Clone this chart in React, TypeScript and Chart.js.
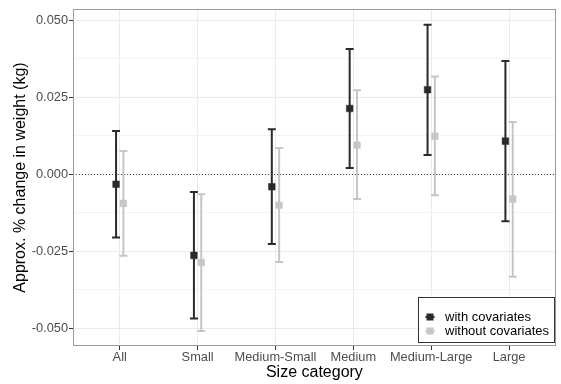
import React, { useEffect, useRef } from "react";
import { Chart, registerables } from "chart.js";

Chart.register(...registerables);

const categories = ["All", "Small", "Medium-Small", "Medium", "Medium-Large", "Large"];
const seriesLabels = ["with covariates", "without covariates"];
const withEst = [-0.0032, -0.0263, -0.004, 0.0214, 0.0275, 0.0108];
const withLo = [-0.0205, -0.0468, -0.0226, 0.0021, 0.0063, -0.0152];
const withHi = [0.0141, -0.0057, 0.0147, 0.0407, 0.0486, 0.0368];
const withoutEst = [-0.0094, -0.0286, -0.01, 0.0095, 0.0124, -0.008];
const withoutLo = [-0.0264, -0.0508, -0.0284, -0.008, -0.0068, -0.0332];
const withoutHi = [0.0076, -0.0064, 0.0086, 0.0273, 0.0318, 0.017];
const yMajorTicks = [-0.05, -0.025, 0, 0.025, 0.05];
const yMinorTicks = [-0.0375, -0.0125, 0.0125, 0.0375];

const DARK = "#2a2a2a";
const LIGHT = "#c6c6c6";
const DODGE = 0.047;
const FONT = "'Liberation Sans', Arial, sans-serif";

function build(est: number[], lo: number[], hi: number[], off: number) {
  return est.map((v, i) => ({ x: i + 1 + off, y: v, lo: lo[i], hi: hi[i] }));
}

const errorBarPlugin = {
  id: "errorBars",
  beforeDatasetsDraw(chart: any) {
    const { ctx, chartArea, scales } = chart;
    const ys = scales.y;
    const xs = scales.x;
    ctx.save();
    ctx.strokeStyle = "#4d4d4d";
    ctx.lineWidth = 1;
    ctx.setLineDash([1, 2]);
    const y0 = Math.round(ys.getPixelForValue(0)) + 0.5;
    ctx.beginPath();
    ctx.moveTo(chartArea.left, y0);
    ctx.lineTo(chartArea.right, y0);
    ctx.stroke();
    ctx.setLineDash([]);
    chart.data.datasets.forEach((ds: any) => {
      ctx.strokeStyle = ds.backgroundColor;
      ctx.lineWidth = 2;
      ds.data.forEach((d: any) => {
        const x = xs.getPixelForValue(d.x);
        const yl = ys.getPixelForValue(d.lo);
        const yh = ys.getPixelForValue(d.hi);
        ctx.beginPath();
        ctx.moveTo(x, yl);
        ctx.lineTo(x, yh);
        ctx.moveTo(x - 4, yl);
        ctx.lineTo(x + 4, yl);
        ctx.moveTo(x - 4, yh);
        ctx.lineTo(x + 4, yh);
        ctx.stroke();
      });
    });
    ctx.restore();
  },
  afterDraw(chart: any) {
    const { ctx, chartArea } = chart;
    ctx.save();
    ctx.strokeStyle = "#9a9a9a";
    ctx.lineWidth = 1;
    ctx.strokeRect(
      Math.round(chartArea.left) + 0.5,
      Math.round(chartArea.top) + 0.5,
      Math.round(chartArea.right - chartArea.left) - 1,
      Math.round(chartArea.bottom - chartArea.top) - 1
    );
    const bx = 418, by = 297, bw = 136, bh = 45;
    ctx.fillStyle = "#ffffff";
    ctx.fillRect(bx, by, bw, bh);
    ctx.strokeStyle = "#333333";
    ctx.strokeRect(bx + 0.5, by + 0.5, bw, bh);
    ctx.font = "13px " + FONT;
    ctx.textBaseline = "middle";
    ctx.textAlign = "left";
    chart.data.datasets.forEach((ds: any, i: number) => {
      const cy = 317 + i * 14;
      const cx = 430;
      ctx.strokeStyle = ds.backgroundColor;
      ctx.lineWidth = 2;
      ctx.beginPath();
      ctx.moveTo(cx - 4.5, cy);
      ctx.lineTo(cx + 4.5, cy);
      ctx.stroke();
      ctx.fillStyle = ds.backgroundColor;
      ctx.fillRect(cx - 3.5, cy - 3.5, 7, 7);
      ctx.fillStyle = "#000000";
      ctx.fillText(ds.label, 445, cy + 0.5);
    });
    ctx.restore();
  },
};

export default function App() {
  const ref = useRef<HTMLCanvasElement>(null);
  useEffect(() => {
    const canvas = ref.current;
    if (!canvas) return;
    const allY = [...yMinorTicks, ...yMajorTicks].sort((a, b) => a - b);
    const isMajor = (v: number) => yMajorTicks.some((m) => Math.abs(m - v) < 1e-9);
    const chart = new Chart(canvas, {
      type: "scatter",
      data: {
        datasets: [
          {
            label: seriesLabels[0],
            data: build(withEst, withLo, withHi, -DODGE) as any,
            backgroundColor: DARK,
            borderColor: DARK,
            pointStyle: "rect",
            pointRadius: 4.7,
            borderWidth: 0.5,
          },
          {
            label: seriesLabels[1],
            data: build(withoutEst, withoutLo, withoutHi, DODGE) as any,
            backgroundColor: LIGHT,
            borderColor: LIGHT,
            pointStyle: "rect",
            pointRadius: 4.7,
            borderWidth: 0.5,
          },
        ],
      },
      options: {
        animation: false,
        responsive: false,
        maintainAspectRatio: false,
        layout: { padding: { top: 9, right: 2, left: 0, bottom: 0 } },
        plugins: { legend: { display: false }, tooltip: { enabled: false } },
        scales: {
          x: {
            type: "linear",
            min: 0.4,
            max: 6.6,
            afterBuildTicks: (s: any) => {
              s.ticks = categories.map((_, i) => ({ value: i + 1 }));
            },
            afterFit: (s: any) => {
              s.height = 38;
            },
            ticks: {
              autoSkip: false,
              maxRotation: 0,
              padding: 0,
              color: "#4d4d4d",
              font: { family: FONT, size: 12.8 },
              callback: (v: any) => categories[Math.round(Number(v)) - 1] ?? "",
            },
            grid: { color: "#ebebeb", lineWidth: 1, tickLength: 4, tickColor: "#333333" },
            border: { display: false },
            title: {
              display: true,
              text: "Size category",
              color: "#000000",
              font: { family: FONT, size: 16 },
              padding: { top: 0, bottom: 2 },
            },
          },
          y: {
            min: -0.0557,
            max: 0.0537,
            afterBuildTicks: (s: any) => {
              s.ticks = allY.map((v) => ({ value: v }));
            },
            afterFit: (s: any) => {
              s.width = 73;
            },
            ticks: {
              autoSkip: false,
              padding: 1,
              color: "#4d4d4d",
              font: { family: FONT, size: 12.8 },
              callback: (v: any) => (isMajor(Number(v)) ? Number(v).toFixed(3) : ""),
            },
            grid: {
              color: (c: any) => (isMajor(c.tick?.value) ? "#ebebeb" : "#f1f1f1"),
              lineWidth: (c: any) => (isMajor(c.tick?.value) ? 1 : 0.8),
              tickLength: 4,
              tickColor: (c: any) => (isMajor(c.tick?.value) ? "#333333" : "rgba(0,0,0,0)"),
            },
            border: { display: false },
            title: {
              display: true,
              text: "Approx. % change in weight (kg)",
              color: "#000000",
              font: { family: FONT, size: 16 },
              padding: { top: 11, bottom: 0 },
            },
          },
        },
      },
      plugins: [errorBarPlugin],
    } as any);
    return () => chart.destroy();
  }, []);
  return (
    <div style={{ position: "fixed", left: 0, top: 0, width: 561, height: 384, background: "#fff" }}>
      <canvas ref={ref} width={561} height={384} style={{ width: 561, height: 384, display: "block" }} />
    </div>
  );
}
